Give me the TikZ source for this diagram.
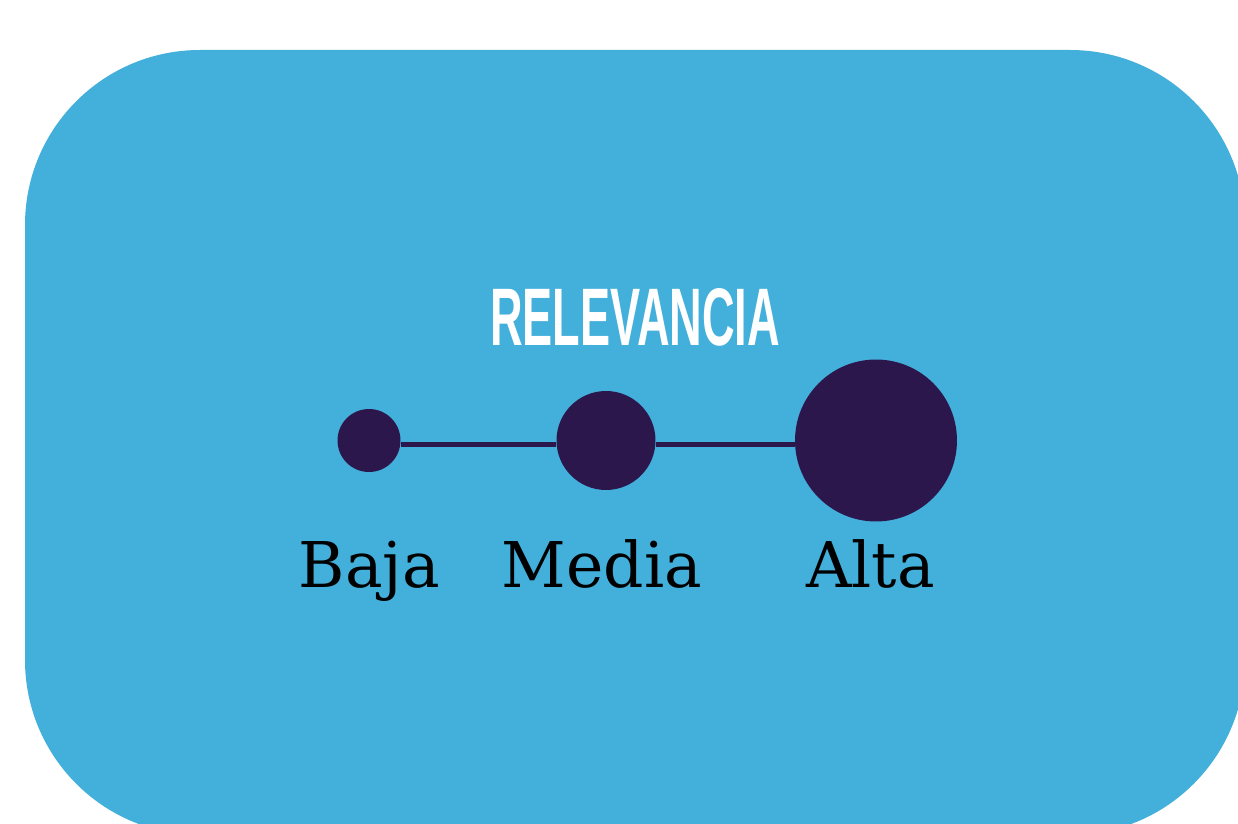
\documentclass[tikz,border=0pt]{standalone}
\usepackage{fontspec}
\usepackage{graphicx}
\newfontfamily\titlefont{Liberation Sans}
\newfontfamily\labelfont{DejaVu Serif}
\definecolor{panelblue}{HTML}{43AFDB}
\definecolor{dotpurple}{HTML}{2C174D}
\tikzset{
  dot/.style={circle,fill=dotpurple,inner sep=0pt},
  levellabel/.style={anchor=base,inner sep=0pt,font=\labelfont\fontsize{35.9}{38}\selectfont},
  link/.style={draw=dotpurple,line width=0.1cm}
}
\begin{document}
\begin{tikzpicture}[x=0.02cm,y=-0.02cm]
	\useasboundingbox (0,0) rectangle (1238,824);
	\clip (0,0) rectangle (1238,824);
	\fill[panelblue,rounded corners=3.5cm] (25,50) rectangle (1245,835);
	\node[text=white,inner sep=0pt] (titulo) at (635,317.5) {\resizebox{5.8cm}{1.14cm}{\titlefont\bfseries RELEVANCIA}};
	% escala de relevancia
	\node[dot,minimum size=1.26cm] (baja) at (369,440.5) {};
	\node[dot,minimum size=1.98cm] (media) at (606,440.5) {};
	\node[dot,minimum size=3.24cm] (alta) at (876,440.5) {};
	\draw[link] ([yshift=-0.09cm]baja.east) -- ([yshift=-0.09cm]media.west);
	\draw[link] ([yshift=-0.09cm]media.east) -- ([yshift=-0.09cm]alta.west);
	\node[levellabel] (lblbaja) at (369.5,587) {Baja};
	\node[levellabel] (lblmedia) at (602,587) {Media};
	\node[levellabel] (lblalta) at (870.5,587) {Alta};
\end{tikzpicture}
\end{document}
